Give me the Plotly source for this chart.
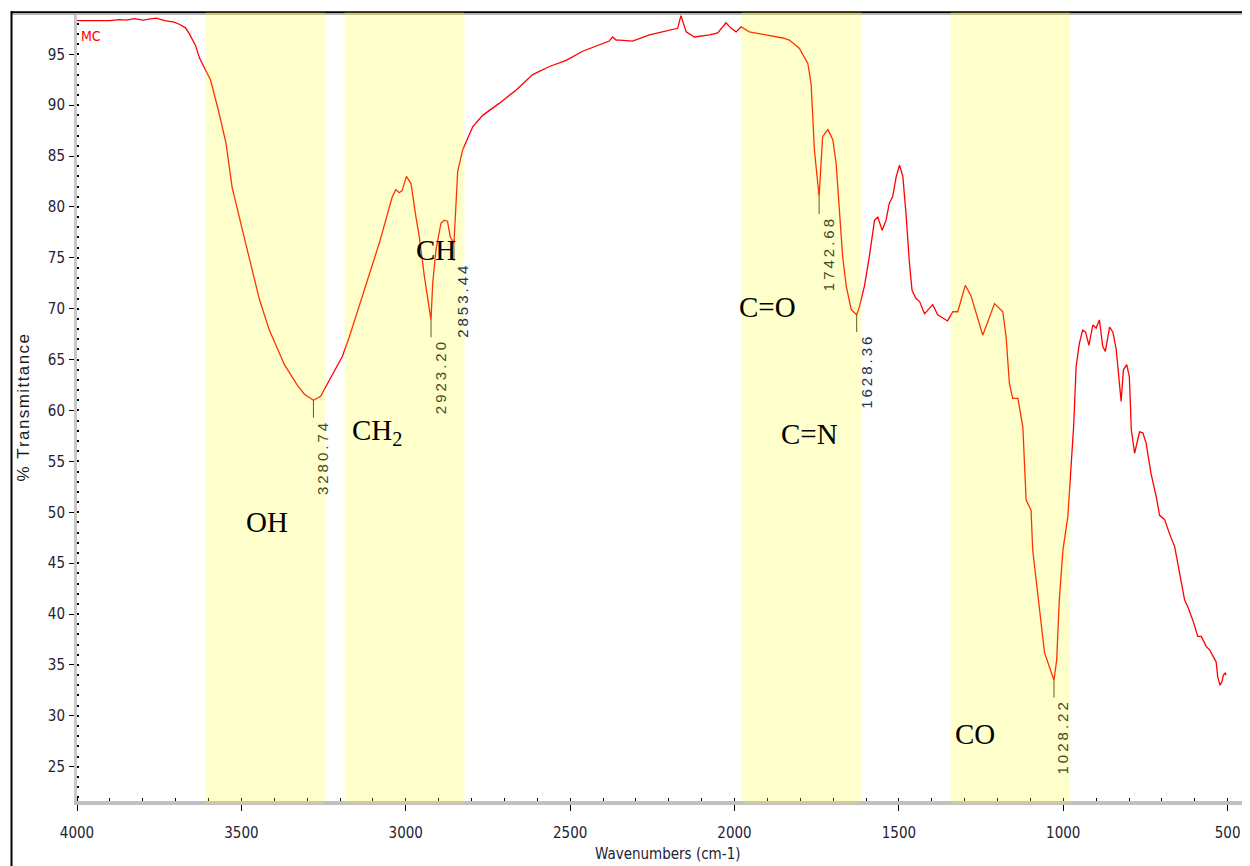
import plotly.graph_objects as go

# ---------------- data ----------------
wavenumber = [4000, 3970, 3932, 3900, 3871, 3850, 3826, 3800, 3759, 3734, 3704, 3689, 3670, 3658, 3640,
              3627, 3594, 3570, 3547, 3528, 3486, 3445, 3415, 3369, 3330, 3308, 3280.74, 3259, 3232, 3193,
              3172, 3132, 3080, 3041, 3030, 3020, 3011, 2998, 2984, 2969, 2959, 2943, 2923.2, 2918, 2908,
              2893, 2883, 2873, 2865, 2853.44, 2847, 2842, 2827, 2796, 2766, 2715, 2664, 2614, 2563, 2512,
              2462, 2411, 2381, 2371, 2360, 2349, 2310, 2259, 2208, 2173, 2163, 2147, 2122, 2076, 2051,
              2026, 2010, 1995, 1980, 1955, 1904, 1853, 1833, 1803, 1777, 1767, 1762, 1757, 1742.68, 1737,
              1732, 1716, 1701, 1691, 1681, 1671, 1660, 1645, 1628.36, 1620, 1605, 1590, 1574, 1564, 1551,
              1539, 1529, 1519, 1508, 1498, 1488, 1478, 1468, 1460, 1448, 1437, 1422, 1412, 1397, 1382,
              1352, 1336, 1321, 1298, 1280, 1245, 1209, 1184, 1174, 1164, 1154, 1138, 1123, 1113, 1098,
              1093, 1075, 1057, 1028.22, 1020, 1012, 1001, 986, 976, 968, 961, 951, 941, 932, 922, 910,
              900, 890, 880, 872, 859, 849, 839, 829, 824, 817, 807, 799, 793, 783, 768, 758, 748, 733,
              717, 707, 692, 677, 661, 646, 631, 621, 606, 591, 580, 565, 555, 540, 535, 530, 523, 517,
              513, 507, 505]
transmittance = [98.3, 98.3, 98.35, 98.3, 98.4, 98.35, 98.5, 98.35, 98.55, 98.3, 98.15, 97.95, 97.6, 97.0, 95.9,
                 94.6, 92.5, 89.5, 86.3, 81.9, 76.3, 70.9, 67.9, 64.5, 62.5, 61.6, 61.0, 61.4, 63.0, 65.3,
                 67.2, 71.2, 76.5, 81.0, 81.7, 81.4, 81.6, 83.0, 82.3, 79.0, 77.1, 73.1, 68.9, 72.5, 75.8,
                 78.4, 78.7, 78.6, 77.1, 76.4, 80.7, 83.5, 85.6, 87.9, 89.0, 90.2, 91.5, 93.0, 93.8, 94.4,
                 95.3, 95.9, 96.3, 96.7, 96.4, 96.4, 96.3, 96.9, 97.3, 97.55, 98.8, 97.2, 96.7, 96.9, 97.1,
                 98.1, 97.55, 97.2, 97.7, 97.2, 96.9, 96.6, 96.4, 95.6, 94.1, 92.1, 88.9, 85.6, 81.0, 84.6,
                 86.9, 87.6, 86.6, 84.3, 80.0, 75.1, 72.2, 69.9, 69.4, 70.2, 72.2, 75.1, 78.7, 79.0, 77.7,
                 78.7, 80.4, 81.0, 83.0, 84.1, 83.0, 79.2, 74.5, 71.8, 71.0, 70.7, 69.5, 69.9, 70.4, 69.4,
                 68.8, 69.7, 69.7, 72.3, 71.2, 67.4, 70.5, 69.7, 67.3, 62.7, 61.2, 61.2, 58.4, 51.2, 50.2,
                 46.3, 41.4, 36.2, 33.5, 35.5, 41.4, 46.3, 49.6, 54.8, 58.7, 64.3, 66.6, 67.9, 67.7, 66.4, 68.4,
                 68.1, 68.9, 66.3, 65.8, 68.2, 67.7, 66.0, 62.0, 60.9, 64.0, 64.5, 63.3, 58.1, 55.8, 57.9, 57.8, 56.8, 53.8,
                 51.5, 49.7, 49.3, 47.9, 46.6, 44.0, 41.4, 40.7, 39.4, 37.8, 37.8, 36.8, 36.5, 35.6, 35.3, 33.8, 33.0, 33.4,
                 34.0, 34.2, 34.0]

peak_wn = [3280.74, 2923.20, 2853.44, 1742.68, 1628.36, 1028.22]
peak_T = [61.0, 68.9, 76.4, 81.0, 69.4, 33.5]
peak_labels = ["3280.74", "2923.20", "2853.44", "1742.68", "1628.36", "1028.22"]
peak_in_band = [True, True, False, True, False, True]

band_lo = [3245.5, 2821.7, 1614.0, 979.3]
band_hi = [3609.7, 3186.0, 1978.4, 1342.5]

group_labels = ["OH", "CH<sub>2</sub>", "CH", "C=O", "C=N", "CO"]
group_x = [3421, 3086, 2907, 1900, 1772, 1270]
group_y = [49.0, 57.9, 75.8, 70.2, 57.7, 28.2]

x_ticks = [4000, 3500, 3000, 2500, 2000, 1500, 1000, 500]
y_ticks = [25, 30, 35, 40, 45, 50, 55, 60, 65, 70, 75, 80, 85, 90, 95]

# ---------------- figure ----------------
NARROW = "Liberation Sans Narrow, DejaVu Sans Condensed, Arial Narrow, sans-serif"
SANS = "Liberation Sans, Arial, sans-serif"
SERIF = "Liberation Serif, Times New Roman, serif"
TICKCOL = "#1e2235"

# the page body has an 8px default margin: size the figure so it ends at the window edge
BODY = 8
W, H = 1250 - BODY, 866 - BODY
PLOT_L, PLOT_T, PLOT_B = 77, 15, 801          # target page pixels of the plot area
ML, MR, MT, MB = PLOT_L - BODY, 0, PLOT_T - BODY, 866 - PLOT_B
PH = PLOT_B - PLOT_T

fig = go.Figure()
fig.add_trace(go.Scatter(x=wavenumber, y=transmittance, mode="lines",
                         line=dict(color="#ff0000", width=1.3),
                         hoverinfo="skip", showlegend=False))

shapes = []
# outer frame: top gray + black line, left black line
shapes.append(dict(type="line", xref="paper", yref="paper", xsizemode="pixel", ysizemode="pixel",
                   xanchor=0, yanchor=1, x0=-66, x1=1200, y0=1, y1=1,
                   line=dict(color="#b4b4b4", width=2), layer="above"))
shapes.append(dict(type="line", xref="paper", yref="paper", xsizemode="pixel", ysizemode="pixel",
                   xanchor=0, yanchor=1, x0=-66, x1=1200, y0=2.8, y1=2.8,
                   line=dict(color="#000000", width=1.8), layer="above"))
shapes.append(dict(type="line", xref="paper", yref="paper", xsizemode="pixel", ysizemode="pixel",
                   xanchor=0, yanchor=0, x0=-65.5, x1=-65.5, y0=-70, y1=PH + 4,
                   line=dict(color="#000000", width=2), layer="above"))

# peak marker lines
for wn, t in zip(peak_wn, peak_T):
    shapes.append(dict(type="line", xref="x", yref="y", x0=wn, x1=wn, y0=t, y1=t - 1.7,
                       line=dict(color="#333333", width=1), layer="above"))

# highlighted bands (semi-transparent, above everything)
for lo, hi in zip(band_lo, band_hi):
    shapes.append(dict(type="rect", xref="x", yref="paper", ysizemode="pixel", yanchor=0,
                       x0=lo, x1=hi, y0=-3, y1=PH + 3,
                       fillcolor="rgba(255,255,0,0.2)", line=dict(width=0), layer="above"))

annotations = []
# MC label
annotations.append(dict(text="MC", xref="paper", yref="paper", x=0, y=1, xanchor="left", yanchor="top",
                        xshift=2, yshift=-11, showarrow=False,
                        font=dict(family=NARROW, size=14, color="#ff0000")))
# axis titles
ytitle = "\u200a".join("% Transmittance")
annotations.append(dict(text=ytitle, xref="paper", yref="paper", x=0, y=0.5, xanchor="center",
                        yanchor="middle", xshift=22.5 - PLOT_L, textangle=-90, showarrow=False,
                        font=dict(family=SANS, size=17, color="#1a1a1a")))
annotations.append(dict(text="Wavenumbers (cm-1)", xref="paper", yref="paper", x=0.5, y=0,
                        xanchor="center", yanchor="middle", yshift=-(854 - PLOT_B), xshift=4,
                        showarrow=False, font=dict(family=NARROW, size=15, color=TICKCOL)))
# peak labels
for wn, t, lab, inb in zip(peak_wn, peak_T, peak_labels, peak_in_band):
    annotations.append(dict(text="\u2009".join(lab), xref="x", yref="y", x=wn, y=t - 1.7,
                            xanchor="center", yanchor="top", xshift=9, yshift=-3, textangle=-90,
                            showarrow=False,
                            font=dict(family=SANS, size=15, color="#3f4a28" if inb else "#26324a")))
# functional group labels
for lab, gx, gy in zip(group_labels, group_x, group_y):
    annotations.append(dict(text=lab, xref="x", yref="y", x=gx, y=gy, xanchor="center",
                            yanchor="middle", showarrow=False,
                            font=dict(family=SERIF, size=29, color="#000000")))

fig.update_layout(
    width=W, height=H,
    margin=dict(l=ML, r=MR, t=MT, b=MB, pad=0, autoexpand=False),
    paper_bgcolor="white", plot_bgcolor="white",
    showlegend=False,
    shapes=shapes, annotations=annotations,
    xaxis=dict(range=[4000, 432], tickmode="array", tickvals=x_ticks,
               ticktext=[str(v) for v in x_ticks], automargin=False,
               ticks="outside", ticklen=6, tickwidth=1, tickcolor="#000000",
               showline=True, linecolor="#c0c0c0", linewidth=4,
               minor=dict(dtick=100, tick0=0, ticks="inside", ticklen=3, tickwidth=1, tickcolor="#000000"),
               showgrid=False, zeroline=False, ticklabelstandoff=9,
               tickfont=dict(family=NARROW, size=15, color=TICKCOL)),
    yaxis=dict(range=[21.63, 98.86], tickmode="array", tickvals=y_ticks,
               ticktext=[str(v) for v in y_ticks], automargin=False,
               ticks="outside", ticklen=5, tickwidth=1, tickcolor="#000000",
               showline=True, linecolor="#c8c8c8", linewidth=3,
               minor=dict(dtick=1, tick0=0, ticks="inside", ticklen=2, tickwidth=1.5, tickcolor="#000000"),
               showgrid=False, zeroline=False, ticklabelstandoff=1,
               tickfont=dict(family=NARROW, size=15, color=TICKCOL)),
)

fig.write_html("out.html")
